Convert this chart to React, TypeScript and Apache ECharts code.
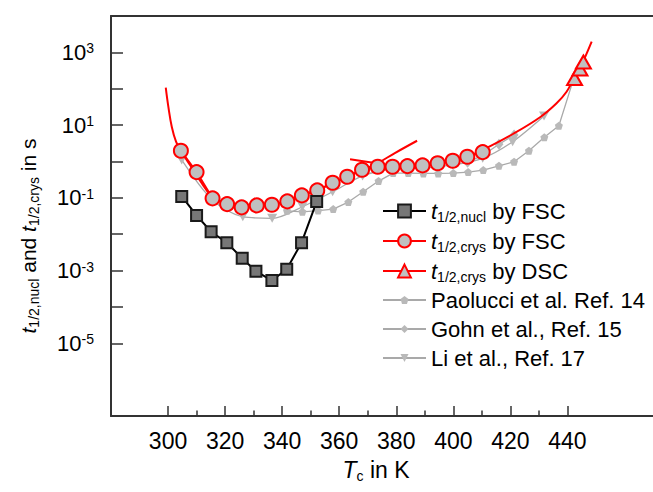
import React, { useEffect, useRef } from 'react';
import * as echarts from 'echarts';

// ---- data (T in K, half-times in s) ----
const nuclT = [304.8, 310.0, 315.1, 320.6, 326.0, 330.8, 336.4, 341.6, 346.8, 352.1];
const nuclVal = [0.109, 0.0327, 0.0117, 0.00585, 0.00217, 0.00096, 0.00053, 0.00109, 0.00585, 0.079];

const crysT = [304.5, 310.0, 315.6, 320.7, 325.8, 331.1, 336.4, 341.8, 346.9, 352.3, 357.7, 362.8, 368.0, 373.5, 378.7, 383.9, 389.2, 394.5, 399.8, 404.9, 410.3];
const crysVal = [1.97, 0.51, 0.0966, 0.0673, 0.0546, 0.0619, 0.0644, 0.0798, 0.1167, 0.16, 0.259, 0.379, 0.59, 0.714, 0.714, 0.746, 0.78, 0.891, 1.045, 1.345, 1.81];

const dscT = [442.5, 444.4, 445.6];
const dscVal = [191, 348, 543];

const paoT = [341.7, 347.1, 352.6, 357.9, 363.2, 368.4, 373.8, 378.9, 384.2, 389.5, 394.7, 400.0, 405.2, 410.5, 416.0, 421.3, 426.5, 431.9, 437.0, 442.0];
const paoVal = [0.044, 0.0413, 0.0446, 0.049, 0.0763, 0.1466, 0.289, 0.479, 0.479, 0.47, 0.47, 0.479, 0.51, 0.579, 0.76, 0.98, 1.97, 4.6, 9.6, 170];

const gohnT = [405.0, 410.5, 416.0, 421.3];
const gohnVal = [0.95, 1.5, 2.96, 5.33];

const liT = [304.8, 315.4, 326.2, 336.5, 347.1, 357.7, 368.2, 378.7, 389.3, 399.8, 410.3, 420.8, 431.8];
const liVal = [1.1, 0.09, 0.0302, 0.0273, 0.0569, 0.147, 0.4, 0.62, 0.66, 0.8, 1.22, 3.49, 17.8];

// fitted curves
const fitLowT = [299.2, 300.1, 301.3, 302.8, 304.5, 307.7, 311.1, 315.3, 320.6, 325.9, 331.1, 336.4, 341.6, 346.9, 352.2, 357.7, 362.7, 367.9, 373.2, 379.5, 387.3];
const fitLowVal = [107, 32, 9.0, 3.49, 1.97, 0.795, 0.308, 0.112, 0.0673, 0.0557, 0.0593, 0.0652, 0.0813, 0.119, 0.163, 0.254, 0.379, 0.579, 0.875, 1.7, 3.71];
const fitHighT = [363.8, 373.2, 378.4, 383.7, 389.0, 394.2, 399.5, 404.7, 410.3, 420.9, 430.4, 436.2, 439.7, 442.0, 444.4, 448.5];
const fitHighVal = [1.15, 0.889, 0.773, 0.75, 0.773, 0.877, 1.03, 1.32, 2.07, 5.69, 16.4, 39.7, 82.8, 174, 365, 1968];

const xMajorTicks = [300, 320, 340, 360, 380, 400, 420, 440];
const xMinorTicks = [310, 330, 350, 370, 390, 410, 430];
const yTicks = [1e-5, 1e-4, 1e-3, 1e-2, 1e-1, 1, 10, 100, 1000];
const yLabelExponents = [3, 1, -1, -3, -5];

const pair = (xs: number[], ys: number[]) => xs.map((x, i) => [x, ys[i]]);

const FONT = '"Liberation Sans", Arial, sans-serif';
const RED = '#ff0000';
const GRAY_LINE = '#a9a9a9';
const GRAY_MARK = '#b9b9b9';
const AXIS = '#333333';
const PENTAGON = 'path://M0,-1 L0.951,-0.309 L0.588,0.809 L-0.588,0.809 L-0.951,-0.309 Z';

const N_NUCL = 'nucl';
const N_FSC = 'crysFSC';
const N_DSC = 'crysDSC';
const N_PAO = 'Paolucci et al. Ref. 14';
const N_GOHN = 'Gohn et al., Ref. 15';
const N_LI = 'Li et al., Ref. 17';

const legendText: Record<string, string> = {
  [N_NUCL]: '{i|t}{sub|1/2,nucl}{b| by FSC}',
  [N_FSC]: '{i|t}{sub|1/2,crys}{b| by FSC}',
  [N_DSC]: '{i|t}{sub|1/2,crys}{b| by DSC}',
  [N_PAO]: '{b|Paolucci et al. Ref. 14}',
  [N_GOHN]: '{b|Gohn et al., Ref. 15}',
  [N_LI]: '{b|Li et al., Ref. 17}',
};

const richText = (size: number, subSize = 14) => ({
  b: { fontSize: size, fontFamily: FONT, color: '#000', lineHeight: 22 },
  i: { fontSize: size, fontFamily: FONT, color: '#000', fontStyle: 'italic', lineHeight: 22 },
  sub: { fontSize: subSize, fontFamily: FONT, color: '#000', lineHeight: 14, padding: [12, 0, 0, 0] },
  sup: { fontSize: subSize, fontFamily: FONT, color: '#000', lineHeight: 14, padding: [0, 0, 8, 0] },
});

export default function App() {
  const ref = useRef<HTMLDivElement>(null);
  useEffect(() => {
    const chart = echarts.init(ref.current!, null, { renderer: 'svg' });
    const grayLine = { color: GRAY_LINE, width: 1.3 };
    const option: any = {
      animation: false,
      backgroundColor: '#fff',
      grid: { left: 111, top: 16, right: 0, bottom: 76 },
      xAxis: [
        {
          type: 'value', min: 280, max: 470, interval: 20, position: 'bottom',
          name: '{i|T}{sub|c}{b| in K}', nameLocation: 'middle', nameGap: 41,
          nameTextStyle: { rich: richText(23), padding: [0, 12, 0, 0] },
          axisLine: { show: true, onZero: false, lineStyle: { color: AXIS, width: 2 } },
          axisTick: { show: true, inside: true, length: 10, customValues: xMajorTicks, lineStyle: { color: AXIS, width: 1.5 } },
          axisLabel: { show: true, customValues: xMajorTicks, margin: 13, fontSize: 23, fontFamily: FONT, color: '#000' },
          splitLine: { show: false },
        },
        {
          type: 'value', min: 280, max: 470, interval: 10, position: 'bottom',
          axisLine: { show: false, onZero: false },
          axisTick: { show: true, inside: true, length: 5.5, customValues: xMinorTicks, lineStyle: { color: AXIS, width: 1.5 } },
          axisLabel: { show: false },
          splitLine: { show: false },
        },
        {
          type: 'value', min: 280, max: 470, position: 'top',
          axisLine: { show: true, onZero: false, lineStyle: { color: AXIS, width: 2 } },
          axisTick: { show: false }, axisLabel: { show: false }, splitLine: { show: false },
        },
      ],
      yAxis: {
        type: 'log', logBase: 10, min: 1e-7, max: 1e4, interval: 1,
        name: '{i|t}{sub|1/2,nucl}{b| and }{i|t}{sub|1/2,crys}{b| in s}',
        nameLocation: 'middle', nameRotate: 90, nameGap: 72,
        nameTextStyle: { rich: richText(21), padding: [0, 40, 0, 0] },
        axisLine: { show: true, onZero: false, lineStyle: { color: AXIS, width: 2 } },
        axisTick: { show: true, inside: true, length: 12, customValues: yTicks, lineStyle: { color: AXIS, width: 1.5 } },
        axisLabel: {
          show: true, margin: 17, fontSize: 22, fontFamily: FONT, color: '#000',
          rich: richText(22, 14),
          formatter: (v: number) => {
            const e = Math.round(Math.log10(v));
            if (!yLabelExponents.includes(e)) return '';
            return `{b|10}{sup|${e}}`;
          },
        },
        splitLine: { show: false },
      },
      legend: [
        {
          data: [N_NUCL, N_FSC, N_DSC], orient: 'vertical', left: 377, top: 193,
          itemWidth: 43, itemHeight: 16, itemGap: 4,
          formatter: (n: string) => legendText[n],
          textStyle: { rich: richText(22) },
          selectedMode: false,
        },
        {
          data: [N_PAO, N_GOHN, N_LI], orient: 'vertical', left: 377, top: 284,
          itemWidth: 43, itemHeight: 10, itemGap: 7,
          formatter: (n: string) => legendText[n],
          textStyle: { rich: richText(22) },
          selectedMode: false,
        },
      ],
      series: [
        {
          name: N_PAO, type: 'line', data: pair(paoT, paoVal), symbol: PENTAGON, symbolSize: 8,
          lineStyle: grayLine, itemStyle: { color: GRAY_MARK }, z: 2,
        },
        {
          name: N_GOHN, type: 'line', data: pair(gohnT, gohnVal), symbol: 'diamond', symbolSize: [9, 11],
          lineStyle: grayLine, itemStyle: { color: GRAY_MARK }, z: 2,
        },
        {
          name: N_LI, type: 'line', data: pair(liT, liVal), symbol: 'triangle', symbolRotate: 180, symbolSize: [10, 9],
          smooth: 0.3, lineStyle: grayLine, itemStyle: { color: GRAY_MARK }, z: 2,
        },
        {
          name: 'fitLow', type: 'line', data: pair(fitLowT, fitLowVal), symbol: 'none', smooth: 0.4,
          lineStyle: { color: RED, width: 2 }, z: 3,
        },
        {
          name: 'fitHigh', type: 'line', data: pair(fitHighT, fitHighVal), symbol: 'none', smooth: 0.4,
          lineStyle: { color: RED, width: 2 }, z: 3,
        },
        {
          name: N_FSC, type: 'line', data: pair(crysT, crysVal), symbol: 'circle', symbolSize: 14,
          lineStyle: { color: RED, width: 2 },
          itemStyle: { color: '#c0c0c0', borderColor: RED, borderWidth: 2 }, z: 4,
        },
        {
          name: N_DSC, type: 'line', data: pair(dscT, dscVal), symbol: 'triangle', symbolSize: [15, 13],
          lineStyle: { color: RED, width: 2 },
          itemStyle: { color: '#c0c0c0', borderColor: RED, borderWidth: 2 }, z: 4,
        },
        {
          name: N_NUCL, type: 'line', data: pair(nuclT, nuclVal), symbol: 'rect', symbolSize: 11,
          lineStyle: { color: '#000', width: 2 },
          itemStyle: { color: '#777777', borderColor: '#1a1a1a', borderWidth: 2 }, z: 5,
        },
      ],
    };
    chart.setOption(option);
    return () => chart.dispose();
  }, []);
  return <div ref={ref} style={{ position: 'fixed', left: 0, top: 0, width: 653, height: 492 }} />;
}
